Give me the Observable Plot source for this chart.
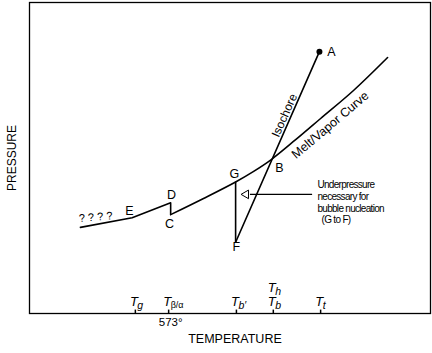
<!DOCTYPE html>
<html><head><meta charset="utf-8">
<script src="https://cdn.jsdelivr.net/npm/d3@7"></script>
<script src="https://cdn.jsdelivr.net/npm/@observablehq/plot@0.6"></script>
<style>body{margin:0;background:#fff}</style>
</head><body><div id="chart"></div>
<script>
// Low-temperature branch: start, E, D, C (straight segments)
const lowTemp = [12.7, 25.6, 35.2, 35.2];
const lowPres = [27.7, 30.8, 35.6, 31.8];
// Melt/vapor curve from C upward through G and B
const meltTemp = [35.2, 43.4, 51.4, 55.9, 60.3, 66.3, 72.6, 80.8, 89.3];
const meltPres = [31.8, 37.0, 42.3, 45.7, 49.5, 55.8, 62.7, 71.7, 82.3];
// Isochore A -> F
const isoTemp = [72.3, 51.4];
const isoPres = [84.2, 22.9];
// Underpressure drop G -> F
const gfTemp = [51.4, 51.4];
const gfPres = [42.3, 22.9];
// Point labels
const ptNames = ["A", "B", "C", "D", "E", "F", "G"];
const ptTemp = [75.3, 62.3, 34.9, 35.4, 24.9, 51.6, 51.1];
const ptPres = [84.2, 46.9, 28.8, 38.0, 33.0, 21.5, 44.7];
// Temperature ticks
const tickTemps = [26.4, 34.7, 51.6, 60.8, 72.6];
const tickMain = ["T", "T", "T", "T", "T"];
const tickSubs = ["g", "β/α", "b′", "b", "t"];
const upperMain = "T", upperSub = "h";
const tickNote = "573°";
// Annotation
const arrowTemp = [55.1, 70.6];
const arrowPres = 38.3;
const arrowHeadTemp = 54.0;
const noteLines = ["Underpressure", "necessary for", "bubble nucleation", "\u00a0\u00a0(G to F)"];
const noteTemp = 71.8, notePres = 35.8;
const qTemp = 16.5, qPres = 31.0, qText = "? ? ? ?";
const isoLabel = {t: 63.6, p: 63.7, text: "Isochore"};
const meltLabel = {t: 75.0, p: 60.6, text: "Melt/Vapor Curve"};
const xLabel = "TEMPERATURE", yLabel = "PRESSURE";

const zip = (xs, ys) => xs.map((x, i) => ({x, y: ys[i]}));
const isGreek = s => /[βα]/.test(s);
const sw = 1.6;

const chart = Plot.plot({
  width: 432, height: 353,
  marginLeft: 29, marginRight: 2, marginTop: 2, marginBottom: 40,
  x: {domain: [0, 100], axis: null},
  y: {domain: [0, 100], axis: null},
  style: {fontFamily: "'Liberation Sans', Arial, Helvetica, sans-serif", background: "#fff", color: "#000"},
  marks: [
    Plot.frame({stroke: "#000", strokeWidth: 1.3}),
    Plot.ruleX(tickTemps, {y1: 0, y2: 1.1, stroke: "#000", strokeWidth: 1.5}),
    Plot.line(zip(lowTemp, lowPres), {x: "x", y: "y", stroke: "#000", strokeWidth: sw}),
    Plot.line(zip(meltTemp, meltPres), {x: "x", y: "y", curve: "catmull-rom", stroke: "#000", strokeWidth: sw}),
    Plot.line(zip(isoTemp, isoPres), {x: "x", y: "y", stroke: "#000", strokeWidth: sw}),
    Plot.line(zip(gfTemp, gfPres), {x: "x", y: "y", stroke: "#000", strokeWidth: sw}),
    Plot.dot([{x: isoTemp[0], y: isoPres[0]}], {x: "x", y: "y", r: 3, fill: "#000"}),
    Plot.ruleY([arrowPres], {x1: arrowTemp[0], x2: arrowTemp[1], stroke: "#000", strokeWidth: 1.2}),
    Plot.dot([{x: arrowHeadTemp, y: arrowPres}], {x: "x", y: "y", symbol: "triangle", rotate: -90, r: 3.2, fill: "#fff", stroke: "#000", strokeWidth: 1}),
    Plot.text(ptNames, {x: (d, i) => ptTemp[i], y: (d, i) => ptPres[i], fontSize: 12.5}),
    Plot.text([qText], {x: () => qTemp, y: () => qPres, fontSize: 11, rotate: -5}),
    Plot.text([isoLabel], {x: "t", y: "p", text: "text", rotate: -66, fontSize: 12}),
    Plot.text([meltLabel], {x: "t", y: "p", text: "text", rotate: -40.3, fontSize: 12.5}),
    Plot.text([noteLines.join("\n")], {x: () => noteTemp, y: () => notePres, textAnchor: "start", lineHeight: 1.17,
      fontSize: 10, fontFamily: "'Liberation Sans', Arial, sans-serif"}),
    // tick labels
    Plot.text(tickTemps, {x: d => d, text: (d, i) => tickMain[i], frameAnchor: "bottom", dx: 2.5, dy: -7.5,
      textAnchor: "end", lineAnchor: "bottom", fontStyle: "italic", fontSize: 13}),
    Plot.text(tickTemps, {x: d => d, text: (d, i) => tickSubs[i], filter: (d, i) => !isGreek(tickSubs[i]),
      frameAnchor: "bottom", dx: 2, dy: -5, textAnchor: "start", lineAnchor: "bottom", fontStyle: "italic", fontSize: 10.5}),
    Plot.text(tickTemps, {x: d => d, text: (d, i) => tickSubs[i], filter: (d, i) => isGreek(tickSubs[i]),
      frameAnchor: "bottom", dx: 2, dy: -6, textAnchor: "start", lineAnchor: "bottom", fontSize: 9}),
    Plot.text([tickTemps[3]], {x: d => d, text: () => upperMain, frameAnchor: "bottom", dx: 2.5, dy: -21.5,
      textAnchor: "end", lineAnchor: "bottom", fontStyle: "italic", fontSize: 13}),
    Plot.text([tickTemps[3]], {x: d => d, text: () => upperSub, frameAnchor: "bottom", dx: 2, dy: -19,
      textAnchor: "start", lineAnchor: "bottom", fontStyle: "italic", fontSize: 10.5}),
    Plot.text([tickTemps[1]], {x: d => d, text: () => tickNote, frameAnchor: "bottom", dx: 2, dy: 12.5,
      textAnchor: "middle", lineAnchor: "bottom", fontSize: 11.5}),
    // axis titles
    Plot.text([yLabel], {frameAnchor: "left", dx: -17, rotate: -90, textAnchor: "middle", lineAnchor: "middle", fontSize: 12}),
    Plot.text([xLabel], {frameAnchor: "bottom", dx: 5, dy: 25, textAnchor: "middle", lineAnchor: "middle", fontSize: 12.5})
  ]
});
// condense the annotation note like the original narrow type
d3.select(chart).selectAll("text").filter(function() { return this.textContent.startsWith("Underpressure"); })
  .attr("letter-spacing", "-0.7");
document.getElementById("chart").appendChild(chart);
</script>
</body></html>
